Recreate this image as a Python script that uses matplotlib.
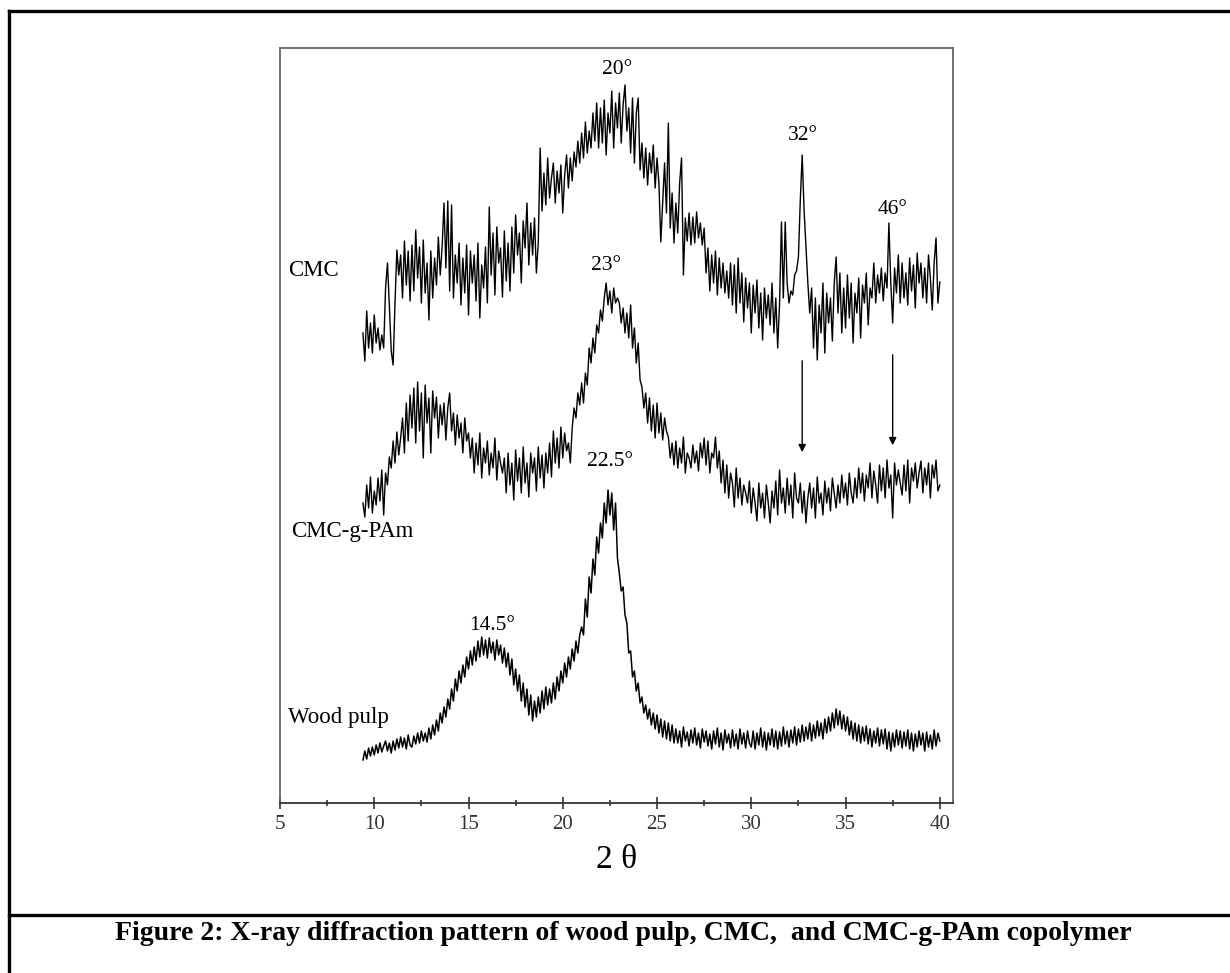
import numpy as np
import matplotlib.pyplot as plt
from matplotlib.lines import Line2D

plt.rcParams["font.family"] = ["Liberation Serif", "DejaVu Serif"]

# 2-theta grid: 9.4 .. 40.0 in 0.1 deg steps (307 points)
two_theta = np.round(np.arange(94, 401) * 0.1, 1)

# intensities (arbitrary units, traces already stacked)
cmc = [
    470, 442, 492, 455, 480, 450,
    488, 460, 475, 453, 468, 455, 515, 540, 498, 452,
    438, 500, 553, 528, 548, 505, 562, 518, 552, 502,
    558, 512, 573, 525, 556, 500, 563, 510, 540, 483,
    552, 505, 545, 518, 566, 528, 556, 600, 535, 602,
    512, 598, 505, 548, 520, 560, 498, 545, 510, 558,
    488, 552, 520, 548, 502, 560, 485, 538, 515, 556,
    500, 596, 528, 570, 508, 576, 540, 555, 506, 572,
    522, 560, 512, 576, 530, 588, 548, 570, 520, 582,
    555, 600, 538, 580, 548, 585, 530, 560, 655, 592,
    630, 598, 645, 605, 625, 640, 600, 632, 610, 638,
    590, 628, 648, 615, 645, 622, 651, 636, 662, 640,
    670, 645, 681, 650, 672, 655, 690, 662, 700, 655,
    695, 660, 703, 648, 690, 670, 712, 655, 700, 675,
    710, 660, 698, 718, 672, 695, 650, 705, 640, 690,
    705, 633, 660, 625, 655, 618, 650, 630, 658, 615,
    645, 620, 561, 600, 640, 590, 680, 575, 610, 560,
    600, 570, 620, 645, 528, 585, 562, 590, 558, 586,
    560, 591, 565, 580, 558, 575, 530, 555, 512, 548,
    520, 552, 508, 545, 515, 540, 510, 532, 505, 540,
    498, 538, 490, 545, 500, 530, 481, 525, 495, 520,
    470, 518, 490, 523, 475, 510, 463, 515, 485, 508,
    478, 520, 470, 505, 455, 500, 581, 505, 581, 520,
    500, 512, 508, 528, 532, 546, 603, 648, 593, 556,
    520, 490, 515, 455, 505, 443, 498, 470, 520, 450,
    510, 480, 505, 462, 520, 546, 490, 530, 470, 515,
    475, 528, 485, 520, 460, 510, 490, 525, 465, 518,
    500, 530, 478, 515, 505, 540, 500, 528, 510, 535,
    502, 530, 515, 580, 520, 480, 535, 510, 548, 500,
    540, 505, 530, 498, 545, 512, 538, 495, 550, 520,
    540, 505, 535, 500, 548, 525, 493, 540, 565, 500,
    521,
]

cmc_g_pam = [
    300, 286, 318, 295, 326, 290,
    312, 298, 325, 302, 333, 288, 330, 318, 346, 335,
    362, 340, 371, 348, 365, 385, 350, 400, 362, 408,
    375, 415, 360, 421, 372, 410, 345, 418, 380, 405,
    350, 412, 385, 406, 365, 398, 378, 400, 363, 395,
    410, 372, 390, 358, 388, 365, 380, 350, 385, 362,
    370, 345, 365, 330, 360, 338, 370, 325, 355, 340,
    362, 328, 350, 335, 365, 323, 352, 340, 330, 345,
    310, 350, 318, 340, 303, 353, 322, 345, 310, 356,
    320, 340, 306, 350, 330, 345, 312, 356, 325, 348,
    315, 350, 330, 360, 326, 372, 340, 365, 335, 376,
    345, 370, 352, 360, 340, 375, 395, 385, 410, 398,
    420, 400, 430, 418, 455, 440, 465, 450, 478, 470,
    493, 482, 505, 520, 498, 512, 490, 515, 500, 505,
    500, 480, 495, 470, 490, 465, 498, 455, 475, 440,
    460, 423, 416, 395, 410, 380, 405, 372, 398, 365,
    400, 370, 390, 363, 385, 372, 366, 345, 360, 338,
    362, 335, 355, 340, 366, 330, 350, 345, 335, 358,
    340, 352, 332, 360, 345, 365, 338, 362, 330, 350,
    345, 366, 335, 352, 320, 343, 310, 338, 305, 330,
    320, 296, 335, 305, 325, 298, 318, 310, 300, 322,
    290, 315, 300, 282, 320, 295, 310, 285, 318, 300,
    280, 312, 295, 322, 288, 333, 300, 315, 290, 325,
    298, 318, 285, 330, 305, 300, 320, 290, 312, 280,
    305, 320, 295, 315, 285, 326, 300, 310, 288, 322,
    300, 315, 292, 325, 310, 295, 318, 300, 328, 305,
    320, 298, 330, 310, 300, 325, 305, 335, 310, 330,
    302, 328, 315, 340, 305, 332, 318, 300, 338, 312,
    335, 305, 343, 315, 328, 285, 340, 318, 333, 320,
    308, 338, 312, 343, 300, 335, 322, 340, 315, 330,
    342, 310, 335, 318, 340, 305, 338, 325, 343, 312,
    318,
]

wood_pulp = [
    43, 52, 44, 55, 47, 56,
    48, 58, 50, 60, 51, 57, 62, 52, 60, 50,
    62, 53, 64, 55, 66, 56, 65, 54, 68, 58,
    56, 67, 59, 70, 60, 72, 62, 70, 61, 75,
    64, 78, 68, 83, 72, 90, 80, 96, 86, 104,
    94, 114, 102, 124, 112, 132, 120, 138, 126, 146,
    134, 152, 138, 156, 142, 162, 146, 166, 148, 163,
    145, 165, 150, 161, 143, 163, 148, 158, 140, 155,
    136, 150, 128, 144, 118, 134, 112, 128, 102, 120,
    96, 114, 88, 108, 82, 102, 86, 106, 90, 112,
    94, 116, 98, 114, 100, 120, 104, 126, 112, 132,
    120, 140, 126, 146, 134, 154, 142, 162, 150, 168,
    176, 168, 204, 186, 226, 210, 244, 228, 266, 250,
    280, 265, 300, 280, 313, 288, 310, 273, 300, 245,
    230, 212, 216, 188, 180, 150, 152, 126, 132, 112,
    120, 100, 106, 90, 98, 84, 94, 78, 90, 74,
    88, 70, 84, 66, 82, 64, 80, 62, 78, 60,
    74, 60, 72, 56, 76, 62, 71, 57, 73, 60,
    75, 58, 70, 55, 74, 61, 72, 57, 69, 54,
    72, 59, 75, 56, 70, 53, 73, 60, 69, 55,
    73, 57, 69, 54, 74, 59, 70, 55, 72, 60,
    56, 72, 54, 70, 58, 75, 56, 71, 53, 70,
    58, 74, 56, 72, 54, 71, 57, 76, 59, 72,
    56, 73, 60, 76, 58, 74, 61, 78, 62, 76,
    64, 80, 62, 78, 65, 82, 67, 80, 64, 84,
    70, 86, 72, 90, 75, 94, 78, 92, 74, 88,
    72, 86, 68, 82, 64, 80, 62, 78, 60, 76,
    62, 77, 59, 74, 56, 72, 60, 75, 57, 73,
    59, 74, 54, 71, 52, 70, 56, 73, 58, 72,
    55, 71, 57, 73, 54, 70, 52, 69, 56, 72,
    58, 70, 52, 71, 56, 68, 54, 73, 57, 70,
    62,
]

series_names = ["CMC", "CMC-g-PAm", "Wood pulp"]
label_pos = [(5.42, 533), (5.6, 272), (5.4, 85)]

peak_labels = ["20°", "32°", "46°", "23°", "22.5°", "14.5°"]
peak_pos = [(22.9, 733), (32.73, 668), (37.5, 593), (22.3, 538), (22.5, 341), (16.24, 178)]

arrow_x = [32.7, 37.5]
arrow_from = [445, 451]
arrow_to = [348, 355]

fig = plt.figure(figsize=(12.3, 9.73), dpi=100)
ax = fig.add_axes([280 / 1230, 170 / 973, 673 / 1230, 755 / 973])

for ys, lw in zip([cmc, cmc_g_pam, wood_pulp], [1.0, 1.0, 1.1]):
    ax.plot(two_theta, ys, color="black", linewidth=lw)

for name, (x, y) in zip(series_names, label_pos):
    ax.text(x, y, name, fontsize=16.5, ha="left", va="center")

for lab, (x, y) in zip(peak_labels, peak_pos):
    ax.text(x, y, lab, fontsize=15.5, ha="center", va="center")

for x, y0, y1 in zip(arrow_x, arrow_from, arrow_to):
    ax.annotate("", xy=(x, y1), xytext=(x, y0),
                arrowprops=dict(arrowstyle="-|>", color="black", lw=1, mutation_scale=11))

ax.set_xlim(5, 40.7)
ax.set_ylim(0, 755)
ax.set_xticks(range(5, 41, 5))
ax.set_xticks(np.arange(7.5, 40, 5), minor=True)
ax.set_yticks([])
ax.tick_params(axis="x", which="major", direction="inout", length=9, width=1.2,
               colors="#333333", labelsize=15, pad=4)
ax.tick_params(axis="x", which="minor", direction="inout", length=5, width=1.2, colors="#333333")
for s in ax.spines.values():
    s.set_color("#666666")
    s.set_linewidth(1.3)
ax.spines["bottom"].set_color("#333333")
ax.set_xlabel("2 θ", fontsize=24, labelpad=8)

# page border and caption
fig.add_artist(Line2D([9 / 1230, 9 / 1230], [0, 1 - 11 / 973], color="black", lw=2.4))
fig.add_artist(Line2D([9 / 1230, 1], [1 - 11 / 973, 1 - 11 / 973], color="black", lw=2.4))
fig.add_artist(Line2D([9 / 1230, 1], [1 - 915 / 973, 1 - 915 / 973], color="black", lw=2.4))
fig.text(623 / 1230, 1 - 940 / 973,
         "Figure 2: X-ray diffraction pattern of wood pulp, CMC,  and CMC-g-PAm copolymer",
         fontsize=20, fontweight="bold", ha="center", va="baseline")

fig.savefig("out.png", dpi=100)
